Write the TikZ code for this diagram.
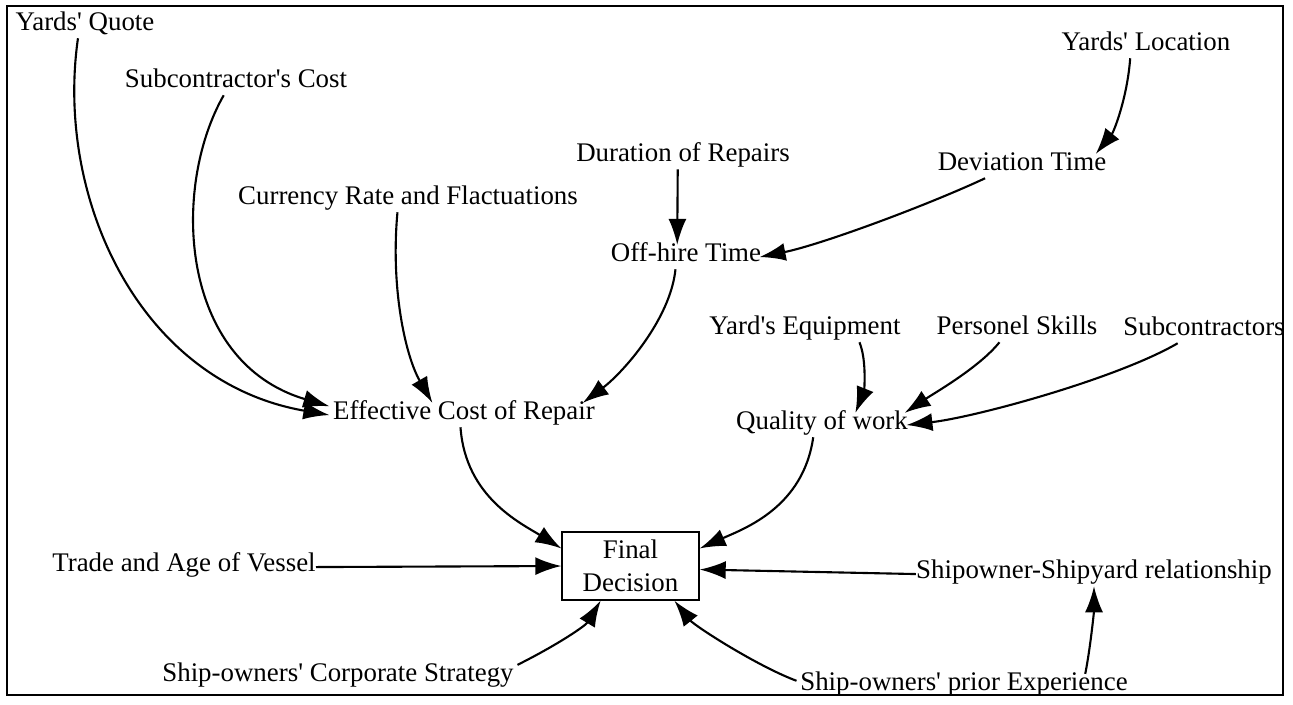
\documentclass[tikz,border=0pt]{standalone}
\usepackage{fontspec}
\setmainfont{Liberation Serif}
\usetikzlibrary{arrows.meta}

\begin{document}
\begin{tikzpicture}[x=.02cm, y=-.02cm, % 1 unit = 1px of the sketch
        font=\fontsize{15.3}{18.8}\selectfont,
        lbl/.style={anchor=base, inner sep=2pt, text height=.7em, text depth=.25em},
        link/.style={-{Latex[length=5.2mm,width=3.6mm]}, line width=1.2pt}]
        \useasboundingbox (0,0) rectangle (1293,704);
        \draw[line width=.9pt] (7,6) rectangle (1283,695);
        \node[lbl] (quote) at (85,30) {Yards\textquotesingle{} Quote};
        \node[lbl] (subcost) at (236,87) {Subcontractor\textquotesingle s Cost};
        \node[lbl] (currency) at (408,204) {Currency Rate and Flactuations};
        \node[lbl] (duration) at (683,161) {Duration of Repairs};
        \node[lbl] (location) at (1146,50) {Yards\textquotesingle{} Location};
        \node[lbl] (deviation) at (1022,170) {Deviation Time};
        \node[lbl] (offhire) at (686,261) {Off-hire Time};
        \node[lbl] (equipment) at (805,334) {Yard\textquotesingle s Equipment};
        \node[lbl] (skills) at (1017,334) {Personel Skills};
        \node[lbl] (subcon) at (1204,335) {Subcontractors};
        \node[lbl] (quality) at (822,429) {Quality of work};
        \node[lbl] (effective) at (464,419) {Effective Cost of Repair};
        \node[lbl] (trade) at (184,571) {Trade and Age of Vessel};
        \node[lbl] (relation) at (1094,578) {Shipowner-Shipyard relationship};
        \node[lbl] (strategy) at (338,681) {Ship-owners\textquotesingle{} Corporate Strategy};
        \node[lbl] (experience) at (964,690) {Ship-owners\textquotesingle{} prior Experience};
        \node[draw, line width=.8pt, minimum width=2.74cm, minimum height=1.36cm, align=center] (final) at (630.5,566) {Final\\Decision};

        % cost side
        \draw[link] ([xshift=-4pt]quote.south) .. controls +(-23,160) and +(-190,-33) .. (effective.west);
        \draw[link] ([xshift=-7pt]subcost.south) .. controls +(-53,93) and +(-150,-44) .. ([yshift=5pt]effective.west);
        \draw[link] ([xshift=-6pt]currency.south) .. controls +(-7,76) and +(-27,-47) .. ([xshift=-18pt]effective.north);
        \draw[link] ([xshift=-3pt]duration.south) -- ([xshift=-5pt]offhire.north);
        \draw[link] ([xshift=-9pt]location.south) .. controls +(-3,40) and +(18,-22) .. ([xshift=42pt]deviation.north);
        \draw[link] ([xshift=-21pt]deviation.south) .. controls +(-60,28) and +(60,-12) .. ([xshift=-3pt]offhire.east);
        \draw[link] ([xshift=-6pt]offhire.south) .. controls +(-5,50) and +(40,-30) .. ([xshift=-9pt]effective.north east);
        % quality side
        \draw[link] ([xshift=31pt]equipment.south) .. controls +(8,20) and +(8,-20) .. ([xshift=19pt]quality.north);
        \draw[link] ([xshift=-10pt]skills.south) .. controls +(-20,25) and +(30,-20) .. ([xshift=-4pt]quality.north east);
        \draw[link] ([xshift=-15pt]subcon.south) .. controls +(-60,35) and +(70,-8) .. ([xshift=-3pt]quality.east);
        % into the decision
        \draw[link] ([xshift=-2pt]effective.south) .. controls +(5,70) and +(-40,-25) .. ([yshift=10pt]final.west);
        \draw[link] ([xshift=-2pt]trade.east) -- (final.west);
        \draw[link] ([xshift=-5pt]quality.south) .. controls +(-10,70) and +(45,-20) .. ([yshift=10pt]final.east);
        \draw[link] ([xshift=2pt]relation.west) -- ([yshift=-2pt]final.east);
        \draw[link] (strategy.north east) .. controls +(40,-20) and +(-15,25) .. ([xshift=-17pt]final.south);
        \draw[link] ([yshift=3pt]experience.west) .. controls +(-40,-15) and +(20,25) .. ([xshift=25pt]final.south);
        \draw[link] ([xshift=69pt]experience.north) .. controls +(5,-25) and +(0,25) .. (relation.south);
\end{tikzpicture}
\end{document}
